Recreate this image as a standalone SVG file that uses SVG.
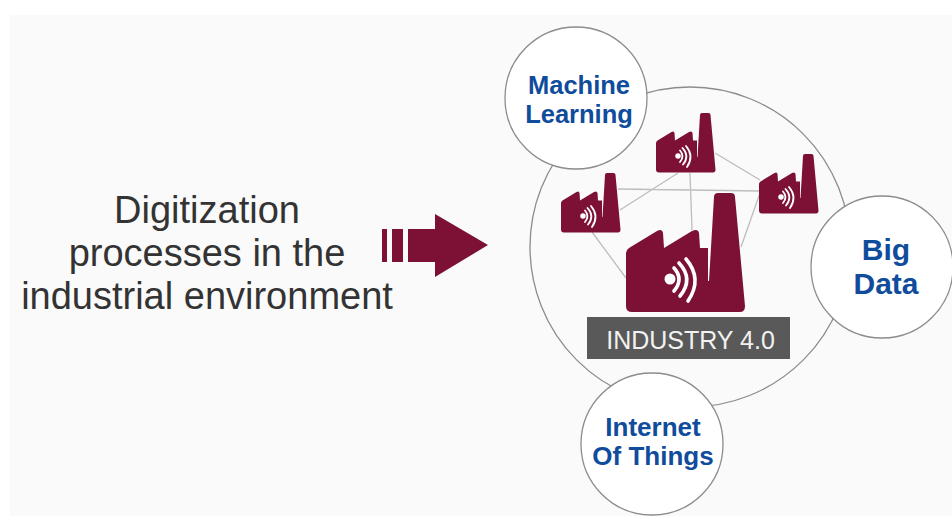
<svg xmlns="http://www.w3.org/2000/svg" width="952" height="519" viewBox="0 0 952 519">
<style>
.ring{fill:#fafafa;stroke:#8c8c8c;stroke-width:1.3}
.sat{fill:#fff;stroke:#8c8c8c;stroke-width:1.3}
.lbl{font-family:"Liberation Sans",Arial,sans-serif;font-weight:700;fill:#0f4c9c;text-anchor:middle}
.main{font-family:"Liberation Sans",Arial,sans-serif;font-size:38px;fill:#333;text-anchor:middle}
.link{stroke:#bdbdbd;stroke-width:1.3;fill:none}
.wave{fill:none;stroke:#fff;stroke-linecap:round;stroke-width:3.6}
</style>
<defs>
<g id="factory">
<path fill="#7d1135" d="M0 60 Q0 57 3 55 L31 38 Q36 35 37 40 L38 55 L66 38 Q72 35 73 40 L74 55 L82 55 L82 88 L83 88 L88 4 Q88 0 92 0 L105 0 Q109 0 109 4 L119 113 Q119 119 114 119 L6 119 Q0 119 0 113Z"/>
<circle cx="44" cy="86" r="5.500" fill="#fff"/>
<path class="wave" d="M48 75 Q58 86 48 98M53 70 Q68 86 54 103M60 66 Q77 86 62 108"/>
</g>
</defs>
<rect width="952" height="519" fill="#fff"/>
<rect x="10" y="15" width="942" height="501" fill="#fafafa"/>
<g id="caption">
<text class="main" x="207" y="223">Digitization</text>
<text class="main" x="207" y="266">processes in the</text>
<text class="main" x="207" y="309">industrial environment</text>
</g>
<g id="arrow" fill="#7d1135">
<rect x="382" y="229" width="5" height="33"/>
<rect x="392" y="229" width="11" height="33"/>
<path d="M408 229H435V214L488 245L435 277V262H408Z"/>
</g>
<g id="industry-ring"><circle class="ring" cx="690" cy="247" r="160"/></g>
<g id="connectors">
<path class="link" d="M678 173L620 210M690 173L692 230M715 153L760 180M618 189L760 191M760 193L741 247M592 232L626 278"/>
</g>
<g id="factory-main"><use href="#factory" x="626" y="193"/></g>
<g id="factory-top"><use href="#factory" transform="translate(656 113) scale(.5)"/></g>
<g id="factory-left"><use href="#factory" transform="translate(561 173) scale(.5)"/></g>
<g id="factory-right"><use href="#factory" transform="translate(759 154) scale(.5)"/></g>
<g id="industry-label">
<rect x="587" y="317" width="203" height="42" fill="#595959"/>
<text x="690.500" y="349" font-family="Liberation Sans,Arial,sans-serif" font-size="25" fill="#f2f2f2" text-anchor="middle">INDUSTRY 4.0</text>
</g>
<g id="machine-learning">
<circle class="sat" cx="576" cy="98" r="71"/>
<text class="lbl" font-size="25.500" x="579" y="94">Machine</text>
<text class="lbl" font-size="25.500" x="579" y="123">Learning</text>
</g>
<g id="big-data">
<circle class="sat" cx="882" cy="267" r="71"/>
<text class="lbl" font-size="30" x="886" y="260">Big</text>
<text class="lbl" font-size="30" x="886" y="294">Data</text>
</g>
<g id="internet-of-things">
<circle class="sat" cx="652" cy="444" r="71"/>
<text class="lbl" font-size="26" x="653" y="436">Internet</text>
<text class="lbl" font-size="26" x="653" y="465">Of Things</text>
</g>
</svg>
